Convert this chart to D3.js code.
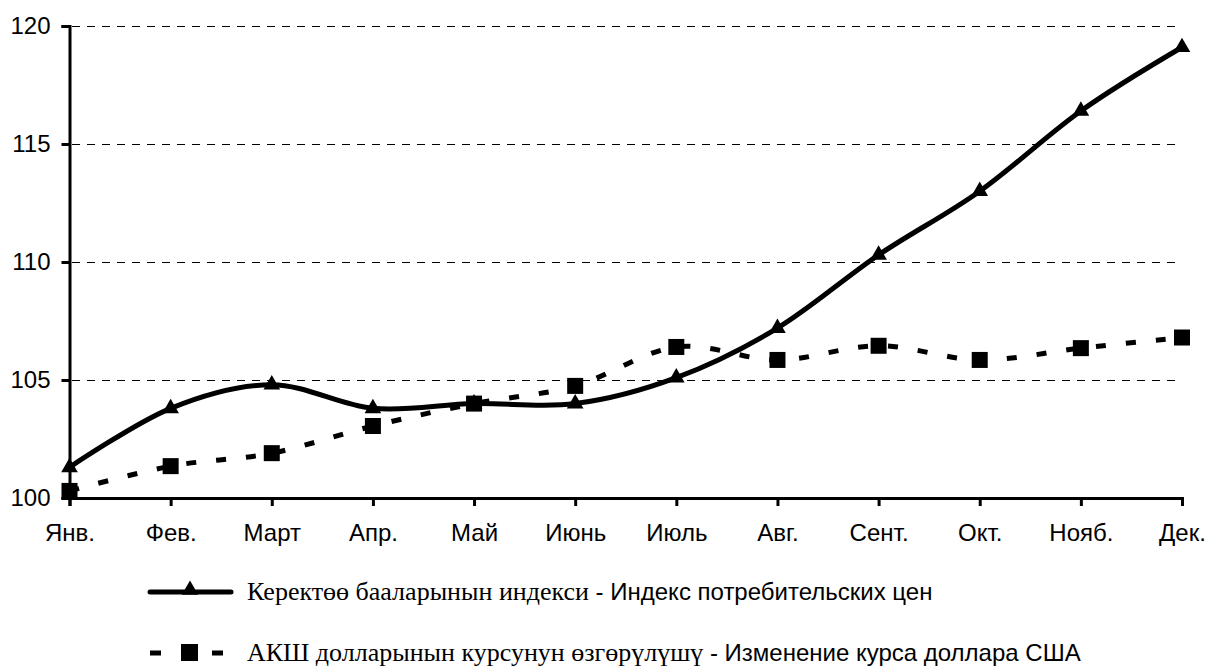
<!DOCTYPE html>
<html>
<head>
<meta charset="utf-8">
<script src="https://cdn.jsdelivr.net/npm/d3@7"></script>
<style>
  body { margin: 0; background: #fff; }
  svg { display: block; }
</style>
</head>
<body>
<svg id="chart"></svg>
<script>
const months = ['Янв.', 'Фев.', 'Март', 'Апр.', 'Май', 'Июнь', 'Июль', 'Авг.', 'Сент.', 'Окт.', 'Нояб.', 'Дек.'];
const cpi = [101.3, 103.8, 104.8, 103.8, 104.0, 104.0, 105.1, 107.2, 110.3, 113.0, 116.4, 119.1];
const usd = [100.3, 101.35, 101.9, 103.05, 104.0, 104.75, 106.4, 105.85, 106.45, 105.85, 106.35, 106.8];
const yTicks = [100, 105, 110, 115, 120];
const legendSerif = ['Керектөө бааларынын индекси', 'АКШ долларынын курсунун өзгөрүлүшү'];
const legendSans = [' - Индекс потребительских цен', ' - Изменение курса доллара США'];

const width = 1206, height = 669;
const svg = d3.select('#chart').attr('width', width).attr('height', height);

const x = d3.scalePoint().domain(months).range([69.5, 1182]);
const y = d3.scaleLinear().domain([100, 120]).range([498, 26]);

// grid
svg.append('g')
    .selectAll('line')
    .data(yTicks.filter(d => d > 100))
    .join('line')
    .attr('x1', 72).attr('x2', 1182)
    .attr('y1', d => Math.round(y(d)) + 0.5).attr('y2', d => Math.round(y(d)) + 0.5)
    .attr('stroke', '#000')
    .attr('stroke-width', 1)
    .attr('stroke-dasharray', '8,7');

// axes
const yAxis = svg.append('g')
    .attr('transform', 'translate(69.5,0)')
    .call(d3.axisLeft(y).tickValues(yTicks).tickSize(8).tickPadding(11));
const xAxis = svg.append('g')
    .attr('transform', 'translate(0,498)')
    .call(d3.axisBottom(x).tickSize(8).tickPadding(18));
[yAxis, xAxis].forEach(g => {
    g.select('.domain').attr('stroke', '#000').attr('stroke-width', 3);
    g.selectAll('.tick line').attr('stroke', '#000').attr('stroke-width', 3);
    g.selectAll('.tick text')
        .attr('fill', '#000')
        .attr('font-family', 'Liberation Sans, Arial, sans-serif')
        .attr('font-size', '24px');
});

const line = d3.line()
    .x((d, i) => x(months[i]))
    .y(d => y(d))
    .curve(d3.curveCatmullRom.alpha(0));

// usd line
svg.append('path')
    .attr('d', line(usd))
    .attr('fill', 'none')
    .attr('stroke', '#000')
    .attr('stroke-width', 5)
    .attr('stroke-dasharray', '10,20');

// cpi line
svg.append('path')
    .attr('d', line(cpi))
    .attr('fill', 'none')
    .attr('stroke', '#000')
    .attr('stroke-width', 5)
    .attr('stroke-linejoin', 'round');

const tri = d3.symbol().type(d3.symbolTriangle).size(120);

svg.append('g')
    .selectAll('rect')
    .data(usd)
    .join('rect')
    .attr('x', (d, i) => x(months[i]) - 8)
    .attr('y', d => y(d) - 8)
    .attr('width', 16).attr('height', 16)
    .attr('fill', '#000');

svg.append('g')
    .selectAll('path')
    .data(cpi)
    .join('path')
    .attr('d', tri)
    .attr('transform', (d, i) => `translate(${x(months[i])},${y(d)})`)
    .attr('fill', '#000');

// legend
const legendY = [592, 653];
const leg = svg.append('g');
leg.append('line')
    .attr('x1', 150).attr('x2', 231)
    .attr('y1', legendY[0]).attr('y2', legendY[0])
    .attr('stroke', '#000').attr('stroke-width', 5).attr('stroke-linecap', 'round');
leg.append('path')
    .attr('d', tri)
    .attr('transform', `translate(190,${legendY[0] - 2})`)
    .attr('fill', '#000');
leg.append('line')
    .attr('x1', 150).attr('x2', 231)
    .attr('y1', legendY[1]).attr('y2', legendY[1])
    .attr('stroke', '#000').attr('stroke-width', 5)
    .attr('stroke-dasharray', '11,20');
leg.append('rect')
    .attr('x', 181).attr('y', legendY[1] - 9)
    .attr('width', 17).attr('height', 17)
    .attr('fill', '#000');

legendY.forEach((ly, i) => {
    const t = leg.append('text')
        .attr('x', 247).attr('y', ly + 8)
        .attr('fill', '#000');
    t.append('tspan')
        .attr('font-family', 'Liberation Serif, Times New Roman, serif')
        .attr('font-size', '26px')
        .text(legendSerif[i]);
    t.append('tspan')
        .attr('font-family', 'Liberation Sans, Arial, sans-serif')
        .attr('font-size', '24px')
        .attr('xml:space', 'preserve')
        .text(legendSans[i]);
});
</script>
</body>
</html>
